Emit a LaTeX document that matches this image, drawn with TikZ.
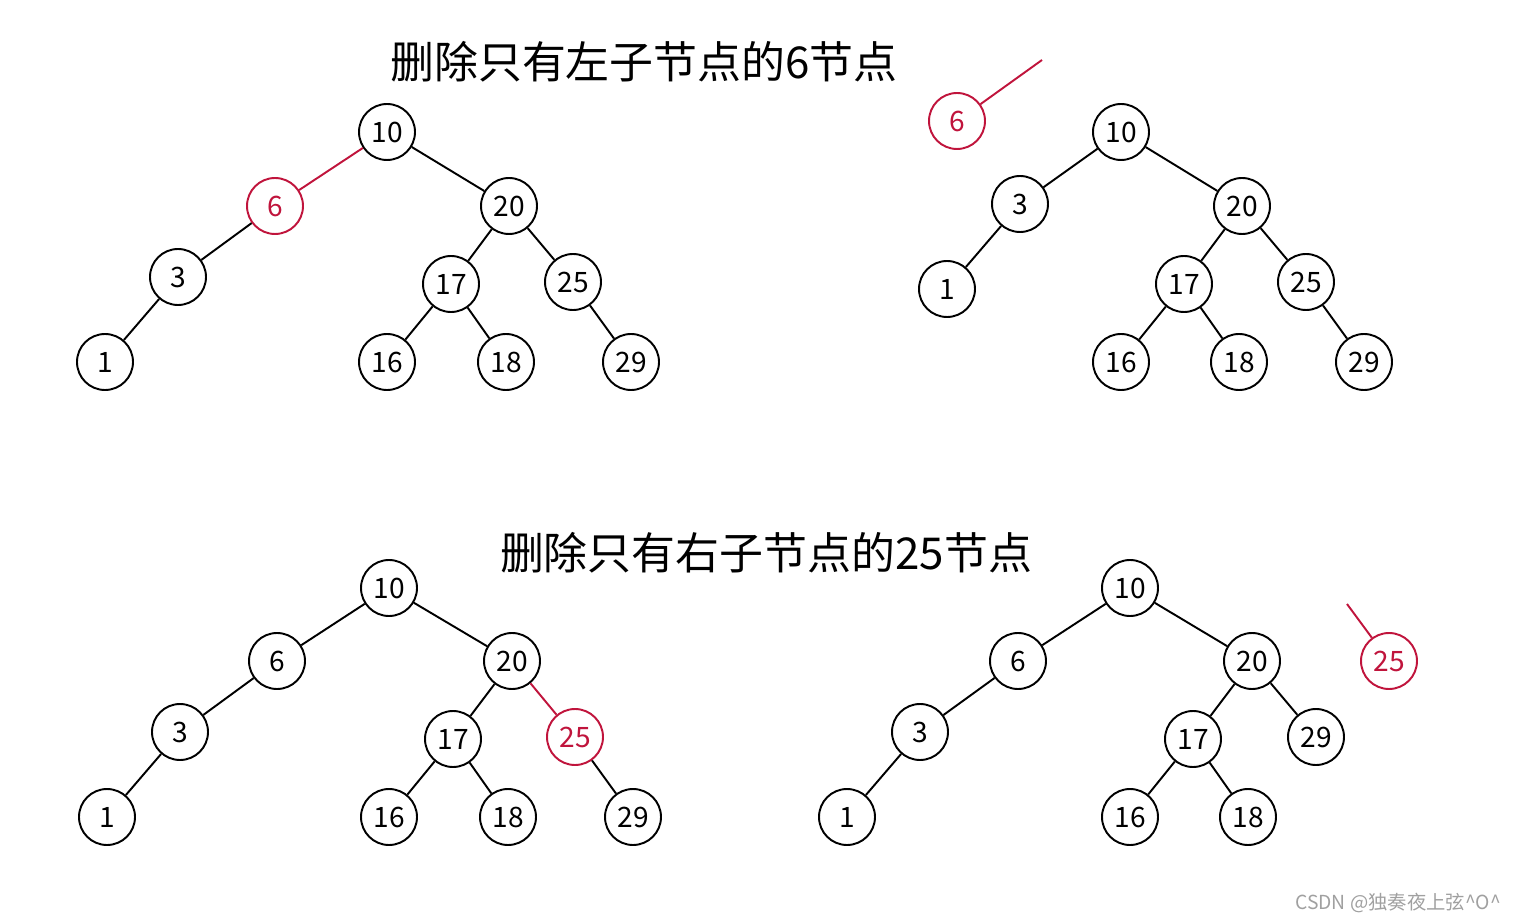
\documentclass[tikz,border=0pt]{standalone}
\usepackage{fontspec}
\setmainfont{Noto Sans CJK SC}
\usetikzlibrary{positioning}
\definecolor{delred}{HTML}{C0143C}
\definecolor{markgray}{HTML}{A0A0A0}

\begin{document}
\begin{tikzpicture}[
  x=0.02cm, y=-0.02cm,
  num/.style={circle, draw=#1, text=#1, fill=white, line width=1.1pt, minimum size=1.12cm, inner sep=0pt, font=\fontsize{16}{16}\selectfont},
  num/.default=black,
  link/.style={line width=1.1pt, draw=#1},
  link/.default=black,
  heading/.style={font=\fontsize{25}{25}\selectfont, inner sep=0pt}
]
  \useasboundingbox (0,0) rectangle (1516,922);

  % Top left - delete 6 (before)
  \node[heading] (titletop) at (644,62) {删除只有左子节点的6节点};
  \node[num] (a10) at (387,132) {10};
  \node[num=delred] (a6) at (275,206) {6};
  \node[num] (a20) at (509,206) {20};
  \node[num] (a3) at (178,277) {3};
  \node[num] (a17) at (451,284) {17};
  \node[num] (a25) at (573,282) {25};
  \node[num] (a1) at (105,362) {1};
  \node[num] (a16) at (387,362) {16};
  \node[num] (a18) at (506,362) {18};
  \node[num] (a29) at (631,362) {29};

  \draw[link=delred] (a10) -- (a6);
  \draw[link] (a10) -- (a20);
  \draw[link] (a6) -- (a3);
  \draw[link] (a3) -- (a1);
  \draw[link] (a20) -- (a17);
  \draw[link] (a20) -- (a25);
  \draw[link] (a17) -- (a16);
  \draw[link] (a17) -- (a18);
  \draw[link] (a25) -- (a29);

  % Top right - after deleting 6
  \node[num=delred] (b6) at (957,121) {6};
  \coordinate (b6cut) at (1042,60);
  \node[num] (b10) at (1121,132) {10};
  \node[num] (b3) at (1020,204) {3};
  \node[num] (b20) at (1242,206) {20};
  \node[num] (b1) at (947,289) {1};
  \node[num] (b17) at (1184,284) {17};
  \node[num] (b25) at (1306,282) {25};
  \node[num] (b16) at (1121,362) {16};
  \node[num] (b18) at (1239,362) {18};
  \node[num] (b29) at (1364,362) {29};

  \draw[link=delred] (b6) -- (b6cut);
  \draw[link] (b10) -- (b3);
  \draw[link] (b10) -- (b20);
  \draw[link] (b3) -- (b1);
  \draw[link] (b20) -- (b17);
  \draw[link] (b20) -- (b25);
  \draw[link] (b17) -- (b16);
  \draw[link] (b17) -- (b18);
  \draw[link] (b25) -- (b29);

  % Bottom left - delete 25 (before)
  \node[heading] (titlebottom) at (766,553) {删除只有右子节点的25节点};
  \node[num] (c10) at (389,588) {10};
  \node[num] (c6) at (277,661) {6};
  \node[num] (c20) at (512,661) {20};
  \node[num] (c3) at (180,732) {3};
  \node[num] (c17) at (453,739) {17};
  \node[num=delred] (c25) at (575,737) {25};
  \node[num] (c1) at (107,817) {1};
  \node[num] (c16) at (389,817) {16};
  \node[num] (c18) at (508,817) {18};
  \node[num] (c29) at (633,817) {29};

  \draw[link] (c10) -- (c6);
  \draw[link] (c10) -- (c20);
  \draw[link] (c6) -- (c3);
  \draw[link] (c3) -- (c1);
  \draw[link] (c20) -- (c17);
  \draw[link=delred] (c20) -- (c25);
  \draw[link] (c17) -- (c16);
  \draw[link] (c17) -- (c18);
  \draw[link] (c25) -- (c29);

  % Bottom right - after deleting 25
  \node[num] (d10) at (1130,588) {10};
  \node[num] (d6) at (1018,661) {6};
  \node[num] (d20) at (1252,661) {20};
  \node[num] (d3) at (920,732) {3};
  \node[num] (d17) at (1193,739) {17};
  \node[num] (d29) at (1316,737) {29};
  \node[num] (d1) at (847,817) {1};
  \node[num] (d16) at (1130,817) {16};
  \node[num] (d18) at (1248,817) {18};
  \node[num=delred] (d25) at (1389,661) {25};
  \coordinate (d25cut) at (1347,604);

  \draw[link] (d10) -- (d6);
  \draw[link] (d10) -- (d20);
  \draw[link] (d6) -- (d3);
  \draw[link] (d3) -- (d1);
  \draw[link] (d20) -- (d17);
  \draw[link] (d20) -- (d29);
  \draw[link] (d17) -- (d16);
  \draw[link] (d17) -- (d18);
  \draw[link=delred] (d25) -- (d25cut);

  % watermark
  \node[font=\fontsize{11}{11}\selectfont, text=markgray, inner sep=0pt] (mark) at (1398,903) {CSDN @独奏夜上弦\^{}O\^{}};
\end{tikzpicture}
\end{document}
